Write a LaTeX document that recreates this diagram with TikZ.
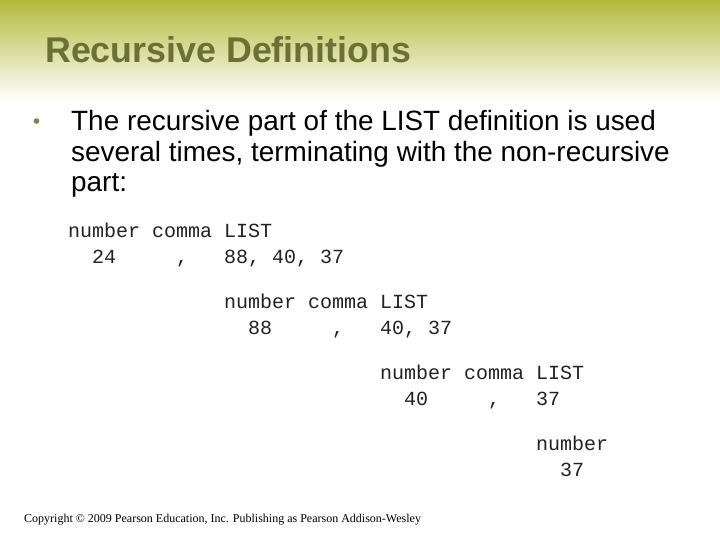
\documentclass[tikz,border=0pt]{standalone}
\usepackage{fontspec}
\setmainfont{Liberation Sans}
\newfontfamily\monofont{Liberation Mono}
\newfontfamily\seriffont{Liberation Serif}
\definecolor{bandtop}{HTML}{B3BA3A}
\definecolor{bandmid}{HTML}{D3D69C}
\definecolor{titlecol}{HTML}{6B7135}
\definecolor{dotcol}{HTML}{7E8446}
\definecolor{monocol}{HTML}{222222}
\tikzset{
  titletext/.style={anchor=base west, inner sep=0pt, text=titlecol, font=\fontsize{35.8}{40}\selectfont\bfseries},
  bodytext/.style={anchor=base west, inner sep=0pt, text=black, font=\fontsize{27.9}{31}\selectfont},
  monotext/.style={anchor=base west, inner sep=0pt, text=monocol, font=\monofont\fontsize{20}{24}\selectfont},
  copytext/.style={anchor=base west, inner sep=0pt, text=black, font=\seriffont\fontsize{12}{14}\selectfont}
}
\begin{document}
\begin{tikzpicture}[x=1pt,y=-1pt]
\useasboundingbox (0,0) rectangle (720,540);
\fill[white] (0,0) rectangle (720,540);
\shade[top color=bandtop, middle color=bandmid, bottom color=white] (0,0) rectangle (720,100);
\node[titletext] (title) at (45,63) {Recursive Definitions};
\fill[dotcol] (36.5,121) circle (2.8);
\node[bodytext] (l1) at (71,131) {The recursive part of the LIST definition is used};
\node[bodytext] (l2) at (71,162) {several times, terminating with the non-recursive};
\node[bodytext] (l3) at (71,192) {part:};
% block 1
\node[monotext] (n1) at (68,237) {number};
\node[monotext] (c1) at (152,237) {comma};
\node[monotext] (s1) at (224,237) {LIST};
\node[monotext] (v1) at (92,263) {24};
\node[monotext] (k1) at (176,263) {,};
\node[monotext] (r1) at (224,263) {88, 40, 37};
% block 2
\node[monotext] (n2) at (224,308) {number};
\node[monotext] (c2) at (308,308) {comma};
\node[monotext] (s2) at (380,308) {LIST};
\node[monotext] (v2) at (248,334) {88};
\node[monotext] (k2) at (332,334) {,};
\node[monotext] (r2) at (380,334) {40, 37};
% block 3
\node[monotext] (n3) at (380,379) {number};
\node[monotext] (c3) at (464,379) {comma};
\node[monotext] (s3) at (536,379) {LIST};
\node[monotext] (v3) at (404,405) {40};
\node[monotext] (k3) at (488,405) {,};
\node[monotext] (r3) at (536,405) {37};
% block 4
\node[monotext] (n4) at (536,450) {number};
\node[monotext] (v4) at (560,476) {37};
\node[copytext] (copy) at (24,522) {Copyright \textcopyright{} 2009 Pearson Education, Inc. Publishing as Pearson Addison-Wesley};
\end{tikzpicture}
\end{document}
